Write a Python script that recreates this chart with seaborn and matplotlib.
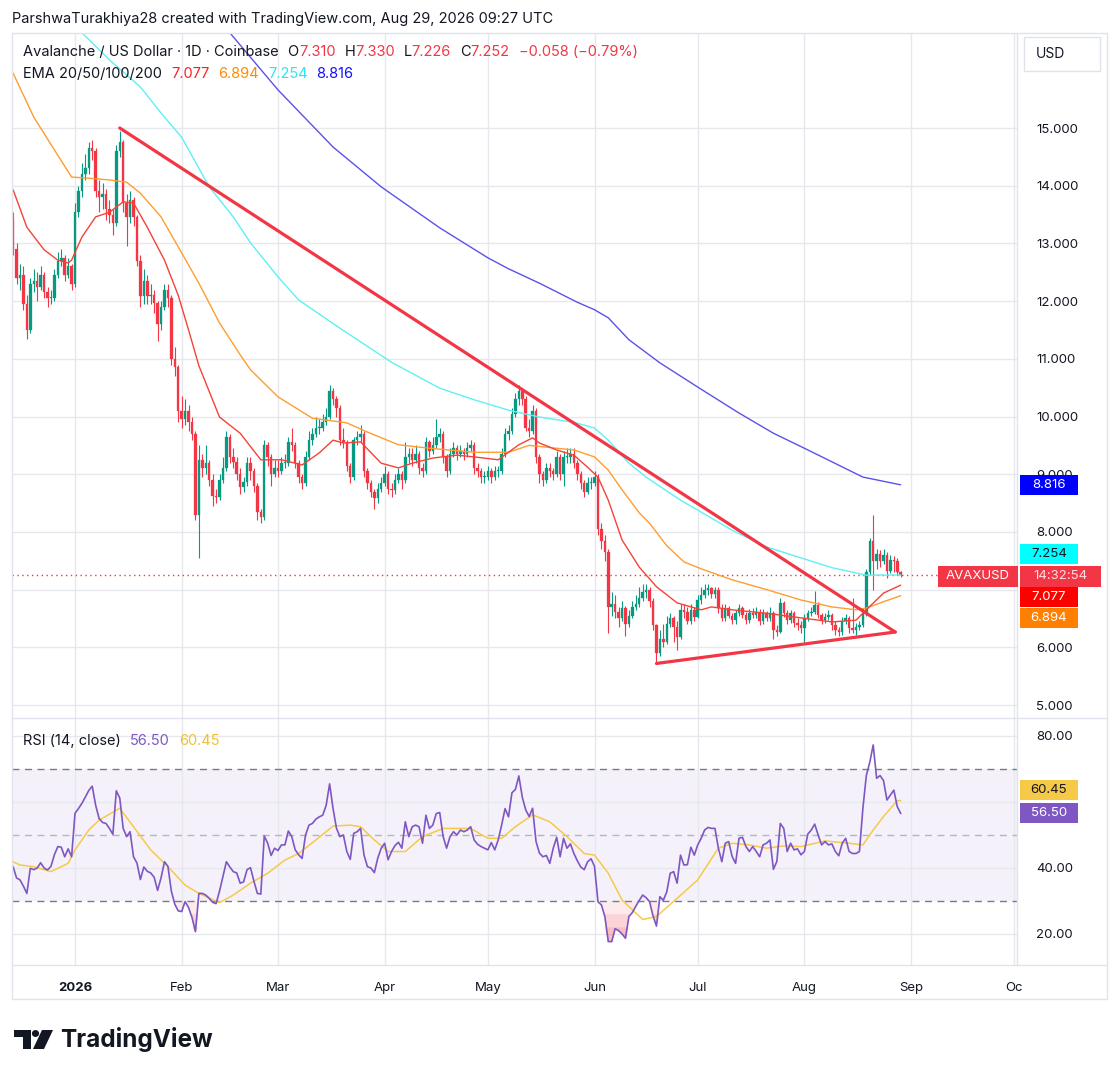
import numpy as np
import pandas as pd
import matplotlib
matplotlib.use("Agg")
import matplotlib.pyplot as plt
import matplotlib.dates as mdates
from matplotlib.patches import Rectangle, Polygon, Circle
from matplotlib.lines import Line2D
from matplotlib.ticker import FuncFormatter
import seaborn as sns

# ---------------- data ----------------
start_date = "2025-12-14"
first_open = 13.4

closes = [
    12.9, 12.4, 12.45, 11.95, 11.5, 12.3, 12.35, 12.25, 12.45, 12.15,
    12.05, 12.05, 12.45, 12.7, 12.75, 12.45, 12.6, 12.3, 13.55, 13.9,
    14.2, 14.3, 14.65, 14.6, 13.9, 13.8, 13.85, 13.6, 13.5, 13.35,
    14.6, 14.75, 13.7, 13.45, 13.75, 13.45, 12.7, 12.08, 12.35, 12.08,
    12.1, 11.96, 11.6, 11.9, 12.2, 12.05, 11.0, 10.85, 10.1, 9.95,
    10.1, 9.9, 9.7, 8.3, 9.25, 9.1, 9.2, 8.9, 8.62, 8.6,
    8.9, 9.1, 9.65, 9.3, 9.22, 9.0, 8.78, 8.87, 9.2, 9.05,
    8.8, 8.35, 8.25, 9.5, 9.3, 9.0, 9.1, 9.05, 9.2, 9.2,
    9.55, 9.5, 9.2, 8.95, 8.85, 9.3, 9.6, 9.7, 9.8, 9.8,
    9.9, 10.0, 10.45, 10.3, 10.15, 9.6, 9.55, 9.15, 8.95, 9.6,
    9.65, 9.7, 9.05, 8.85, 8.7, 8.58, 8.75, 8.85, 9.0, 8.75,
    8.72, 8.9, 9.0, 8.9, 9.3, 9.35, 9.25, 9.35, 9.1, 9.05,
    9.55, 9.4, 9.5, 9.65, 9.7, 9.3, 9.05, 9.35, 9.45, 9.35,
    9.4, 9.35, 9.45, 9.5, 9.1, 9.05, 8.95, 8.95, 9.05, 8.95,
    9.05, 9.05, 9.35, 9.7, 9.75, 10.05, 10.3, 10.44, 10.3, 9.8,
    9.75, 10.1, 9.3, 9.0, 8.9, 9.1, 9.05, 9.0, 9.3, 9.0,
    9.3, 9.3, 9.35, 9.2, 9.0, 8.85, 8.7, 8.85, 8.85, 8.95,
    8.05, 7.85, 7.65, 6.7, 6.75, 6.62, 6.5, 6.68, 6.4, 6.55,
    6.7, 6.75, 6.85, 6.95, 7.0, 6.8, 6.38, 5.9, 6.15, 6.1,
    6.4, 6.5, 6.36, 6.18, 6.65, 6.62, 6.45, 6.65, 6.53, 6.82,
    6.9, 6.99, 7.02, 6.93, 7.0, 6.68, 6.5, 6.68, 6.55, 6.47,
    6.59, 6.68, 6.56, 6.47, 6.59, 6.56, 6.62, 6.45, 6.59, 6.5,
    6.6, 6.3, 6.27, 6.76, 6.59, 6.47, 6.59, 6.42, 6.39, 6.33,
    6.5, 6.59, 6.62, 6.73, 6.56, 6.47, 6.53, 6.56, 6.39, 6.3,
    6.27, 6.45, 6.5, 6.33, 6.3, 6.36, 6.39, 6.6, 7.3, 7.85,
    7.5, 7.62, 7.5, 7.6, 7.32, 7.52, 7.5, 7.31, 7.252,
]

highs = [
    13.55, 13.0, 12.65, 12.6, 12.1, 12.4, 12.55, 12.5, 12.6, 12.5,
    12.25, 12.2, 12.55, 12.85, 12.9, 12.8, 12.75, 12.65, 13.7, 14.0,
    14.4, 14.55, 14.75, 14.8, 14.65, 14.1, 14.05, 13.95, 13.75, 13.6,
    14.7, 14.95, 14.8, 13.85, 13.9, 13.8, 13.5, 12.8, 12.55, 12.45,
    12.3, 12.2, 12.0, 12.0, 12.3, 12.3, 12.1, 11.2, 10.9, 10.35,
    10.3, 10.2, 10.0, 9.75, 9.5, 9.35, 9.5, 9.25, 9.0, 8.75,
    9.0, 9.3, 9.75, 9.7, 9.45, 9.3, 9.1, 8.95, 9.3, 9.3,
    9.1, 8.85, 8.4, 9.6, 9.55, 9.35, 9.25, 9.25, 9.3, 9.35,
    9.65, 9.8, 9.55, 9.25, 9.0, 9.4, 9.75, 9.8, 10.0, 9.95,
    10.05, 10.15, 10.55, 10.5, 10.35, 10.2, 9.8, 9.6, 9.2, 9.65,
    9.75, 9.85, 9.75, 9.1, 8.9, 8.75, 8.85, 8.95, 9.15, 9.05,
    8.85, 9.0, 9.1, 9.05, 9.55, 9.45, 9.45, 9.5, 9.4, 9.2,
    9.65, 9.6, 9.65, 9.95, 9.8, 9.75, 9.35, 9.45, 9.55, 9.5,
    9.5, 9.45, 9.55, 9.6, 9.55, 9.2, 9.1, 9.05, 9.15, 9.1,
    9.15, 9.15, 9.45, 9.8, 9.85, 10.15, 10.4, 10.55, 10.5, 10.35,
    9.95, 10.2, 10.15, 9.35, 9.05, 9.2, 9.2, 9.1, 9.4, 9.35,
    9.4, 9.45, 9.45, 9.45, 9.25, 9.05, 8.9, 8.95, 8.95, 9.05,
    9.0, 8.15, 7.95, 7.7, 6.95, 6.9, 6.7, 6.8, 6.72, 6.65,
    6.8, 6.9, 7.05, 7.1, 7.1, 7.05, 6.85, 6.4, 6.3, 6.4,
    6.55, 6.6, 6.55, 6.45, 6.75, 6.75, 6.7, 6.75, 6.7, 6.9,
    7.05, 7.1, 7.1, 7.05, 7.05, 7.05, 6.75, 6.75, 6.72, 6.6,
    6.65, 6.75, 6.72, 6.62, 6.66, 6.68, 6.7, 6.66, 6.66, 6.63,
    6.7, 6.63, 6.38, 6.85, 6.8, 6.65, 6.65, 6.63, 6.5, 6.45,
    6.58, 6.65, 6.7, 6.98, 6.78, 6.6, 6.6, 6.65, 6.6, 6.45,
    6.36, 6.52, 6.58, 6.55, 6.85, 6.42, 6.45, 6.68, 7.35, 7.9,
    8.3, 7.7, 7.68, 7.7, 7.65, 7.6, 7.58, 7.55, 7.33,
]

lows = [
    12.8, 12.3, 12.2, 11.85, 11.35, 11.45, 12.15, 12.0, 12.2, 12.05,
    11.9, 11.95, 12.0, 12.4, 12.6, 12.35, 12.4, 12.2, 12.25, 13.45,
    13.8, 14.1, 14.2, 14.45, 13.8, 13.55, 13.6, 13.4, 13.35, 13.15,
    13.3, 14.5, 13.55, 12.95, 13.35, 13.3, 12.6, 11.9, 11.95, 11.95,
    11.95, 11.8, 11.3, 11.5, 11.85, 11.9, 10.9, 10.7, 9.9, 9.8,
    9.85, 9.75, 9.6, 8.2, 7.55, 8.95, 9.0, 8.8, 8.45, 8.5,
    8.55, 8.85, 9.05, 9.2, 9.1, 8.9, 8.65, 8.7, 8.8, 8.9,
    8.7, 8.2, 8.15, 8.2, 9.15, 8.8, 8.95, 8.95, 9.0, 9.1,
    9.15, 9.4, 9.1, 8.85, 8.75, 8.8, 9.25, 9.5, 9.65, 9.7,
    9.75, 9.85, 9.95, 10.2, 10.0, 9.5, 9.45, 9.05, 8.85, 8.9,
    9.5, 9.55, 8.95, 8.75, 8.6, 8.4, 8.5, 8.7, 8.8, 8.65,
    8.6, 8.65, 8.85, 8.75, 8.85, 9.2, 9.15, 9.2, 9.0, 8.95,
    9.0, 9.3, 9.35, 9.45, 9.55, 9.2, 8.95, 9.0, 9.3, 9.25,
    9.3, 9.25, 9.3, 9.4, 9.0, 8.95, 8.85, 8.85, 8.9, 8.85,
    8.9, 8.95, 9.0, 9.3, 9.6, 9.7, 10.0, 10.2, 10.2, 9.75,
    9.65, 9.7, 9.2, 8.85, 8.8, 8.85, 8.95, 8.9, 8.95, 8.9,
    8.8, 9.2, 9.2, 9.1, 8.9, 8.75, 8.6, 8.65, 8.75, 8.8,
    7.95, 7.7, 7.5, 6.25, 6.55, 6.5, 6.35, 6.45, 6.2, 6.35,
    6.5, 6.65, 6.7, 6.8, 6.85, 6.7, 6.3, 5.75, 5.85, 6.0,
    6.05, 6.35, 6.1, 5.95, 6.15, 6.5, 6.4, 6.4, 6.45, 6.5,
    6.75, 6.85, 6.9, 6.85, 6.85, 6.6, 6.45, 6.45, 6.5, 6.4,
    6.4, 6.55, 6.5, 6.4, 6.42, 6.5, 6.5, 6.38, 6.4, 6.45,
    6.45, 6.15, 6.2, 6.25, 6.52, 6.4, 6.42, 6.36, 6.3, 6.25,
    6.1, 6.45, 6.55, 6.58, 6.5, 6.4, 6.42, 6.48, 6.3, 6.22,
    6.2, 6.22, 6.4, 6.25, 6.25, 6.22, 6.3, 6.35, 6.55, 7.25,
    7.0, 7.35, 7.4, 7.45, 7.2, 7.28, 7.3, 7.25, 7.226,
]

# EMA lines, read at sampled days (day index from start_date)
ema20_day = [0, 4, 9, 13, 16, 17, 20, 24, 28, 32, 35, 39, 44, 48, 51, 54, 60, 66, 72, 78,
             84, 89, 93, 96, 101, 107, 112, 116, 122, 129, 134, 141, 147, 151, 153, 158,
             163, 167, 170, 173, 177, 182, 187, 193, 200, 203, 209, 219, 229, 238, 245,
             248, 253, 258]
ema20_val = [13.93, 13.28, 12.89, 12.71, 12.66, 12.71, 13.11, 13.46, 13.54, 13.72, 13.70,
             13.28, 12.71, 12.10, 11.50, 10.88, 9.99, 9.71, 9.25, 9.25, 9.16, 9.37, 9.59,
             9.54, 9.56, 9.19, 9.11, 9.19, 9.28, 9.33, 9.30, 9.25, 9.51, 9.63, 9.54, 9.42,
             9.33, 9.12, 8.95, 8.55, 7.86, 7.39, 7.05, 6.77, 6.65, 6.70, 6.65, 6.59, 6.51,
             6.44, 6.47, 6.65, 6.94, 7.077]
ema50_day = [0, 6, 12, 17, 22, 28, 33, 37, 43, 48, 54, 60, 66, 69, 77, 87, 97, 103, 112,
             121, 134, 144, 150, 158, 163, 169, 173, 177, 182, 185, 190, 195, 200, 209,
             219, 229, 238, 245, 248, 253, 258]
ema50_val = [15.95, 15.19, 14.62, 14.15, 14.13, 14.10, 14.06, 13.87, 13.46, 12.94, 12.31,
             11.62, 11.07, 10.81, 10.34, 9.97, 9.89, 9.73, 9.51, 9.45, 9.38, 9.38, 9.50,
             9.45, 9.42, 9.30, 9.07, 8.73, 8.33, 8.15, 7.76, 7.48, 7.36, 7.17, 7.00, 6.82,
             6.70, 6.65, 6.68, 6.79, 6.894]
ema100_day = [20, 28, 37, 43, 49, 57, 64, 69, 77, 83, 95, 110, 124, 134, 144, 153, 163,
              169, 173, 179, 184, 194, 209, 219, 229, 238, 248, 258]
ema100_val = [16.65, 16.18, 15.71, 15.26, 14.84, 13.98, 13.46, 13.01, 12.42, 12.02, 11.53,
              10.94, 10.49, 10.29, 10.11, 9.99, 9.90, 9.80, 9.59, 9.19, 8.95, 8.55, 8.03,
              7.74, 7.55, 7.38, 7.25, 7.254]
ema200_day = [63, 77, 93, 107, 124, 138, 144, 153, 164, 169, 173, 179, 188, 199, 211, 221,
              230, 247, 258]
ema200_val = [16.65, 15.66, 14.67, 13.98, 13.27, 12.75, 12.56, 12.31, 11.98, 11.85, 11.71,
              11.33, 10.93, 10.51, 10.06, 9.71, 9.45, 8.95, 8.816]

# RSI(14) daily, and its moving average read at sampled days
rsi = [
    40.4, 37.0, 36.4, 34.5, 32.3, 39.9, 39.5, 40.0, 41.6, 40.0,
    39.4, 40.5, 44.0, 46.5, 46.3, 43.4, 45.8, 43.4, 56.6, 58.0,
    59.6, 61.5, 63.5, 64.8, 59.0, 55.0, 53.8, 53.5, 52.0, 50.2,
    63.4, 61.2, 52.0, 49.5, 51.0, 43.4, 41.5, 36.5, 40.3, 39.0,
    38.5, 37.2, 33.2, 37.0, 41.9, 40.5, 33.0, 29.0, 27.0, 26.8,
    29.8, 28.0, 25.0, 20.7, 32.3, 32.3, 31.8, 30.8, 29.6, 29.2,
    33.0, 37.5, 41.9, 40.3, 38.9, 38.5, 35.4, 35.8, 39.5, 40.1,
    36.0, 32.3, 32.1, 49.7, 47.5, 43.8, 46.0, 45.3, 47.0, 47.0,
    51.2, 49.5, 45.5, 44.0, 42.9, 50.0, 53.0, 53.5, 54.8, 55.5,
    56.0, 59.0, 65.5, 58.0, 52.0, 49.5, 50.0, 45.0, 42.6, 50.5,
    51.0, 52.0, 43.9, 40.4, 40.0, 38.6, 43.0, 46.0, 47.5, 42.5,
    45.0, 46.8, 47.8, 46.0, 54.0, 49.5, 52.5, 53.0, 52.5, 47.5,
    56.0, 52.0, 53.0, 56.5, 56.8, 49.5, 46.0, 49.5, 51.0, 50.0,
    51.5, 51.0, 51.5, 52.5, 48.5, 47.2, 46.5, 46.0, 45.5, 47.7,
    45.5, 48.5, 53.0, 58.0, 55.5, 62.8, 63.8, 67.9, 61.5, 57.6,
    55.6, 58.1, 48.0, 44.5, 43.4, 43.8, 41.4, 46.0, 49.3, 43.4,
    49.0, 46.0, 47.3, 44.4, 42.2, 40.3, 39.5, 41.9, 42.8, 40.5,
    29.8, 28.8, 25.3, 17.7, 17.7, 21.6, 21.0, 20.0, 18.7, 25.3,
    26.5, 28.4, 30.2, 31.8, 31.0, 29.8, 25.5, 22.4, 31.3, 30.2,
    32.8, 38.4, 38.9, 35.4, 43.9, 40.9, 41.0, 46.3, 43.9, 47.0,
    49.0, 51.5, 52.3, 52.0, 52.0, 46.0, 41.9, 47.5, 48.0, 43.5,
    41.4, 49.0, 49.3, 46.5, 45.0, 46.5, 45.0, 43.4, 47.0, 47.5,
    48.5, 39.6, 42.0, 53.5, 52.0, 45.0, 47.5, 45.5, 45.8, 44.0,
    45.0, 50.3, 51.5, 53.3, 50.0, 47.0, 48.0, 47.0, 47.3, 45.0,
    43.7, 47.5, 49.0, 45.0, 44.4, 44.4, 45.0, 58.0, 68.0, 72.0,
    77.3, 67.2, 68.0, 66.5, 60.6, 62.1, 63.6, 58.6, 56.5,
]
rsi_ma_day = [0, 2, 6, 11, 16, 18, 22, 25, 31, 35, 40, 45, 50, 54, 60, 64, 69, 74, 79, 83,
              88, 93, 98, 101, 105, 109, 114, 119, 125, 130, 133, 138, 142, 146, 151, 156,
              161, 166, 169, 173, 177, 183, 187, 193, 199, 205, 209, 214, 219, 224, 229,
              236, 243, 247, 250, 253, 257, 258]
rsi_ma_val = [41.9, 40.9, 40.4, 38.9, 41.4, 45.5, 51.5, 54.5, 58.1, 52.5, 45.5, 40.4, 34.8,
              32.3, 29.5, 31.8, 35.4, 38.4, 42.4, 44.4, 48.5, 52.7, 53.0, 52.5, 48.5, 45.0,
              45.0, 49.5, 52.0, 52.0, 52.0, 49.0, 49.0, 52.5, 56.1, 54.0, 49.5, 44.4, 43.9,
              38.4, 30.3, 24.4, 25.3, 30.8, 36.4, 46.0, 47.5, 47.0, 46.0, 46.7, 46.5, 48.2,
              47.5, 47.0, 51.5, 55.6, 60.4, 60.45]

# drawn trendlines (day index, price)
trend_upper_day = [31, 256.4]
trend_upper_val = [15.0, 6.265]
trend_lower_day = [187, 256.4]
trend_lower_val = [5.72, 6.265]

month_dates = ["2026-01-01", "2026-02-01", "2026-03-01", "2026-04-01", "2026-05-01",
               "2026-06-01", "2026-07-01", "2026-08-01", "2026-09-01", "2026-10-01"]
month_labels = ["2026", "Feb", "Mar", "Apr", "May", "Jun", "Jul", "Aug", "Sep", "Oc"]
price_ticks = [5, 6, 7, 8, 9, 10, 11, 12, 13, 14, 15]
rsi_ticks = [20, 40, 60, 80]
price_hidden = [7]     # scale labels covered by the value badges in the reference
rsi_hidden = [60]

# ---------------- styling ----------------
sns.set_style("white")
plt.rcParams["font.family"] = ["Inter", "DejaVu Sans"]
plt.rcParams["axes.unicode_minus"] = True

UP, DOWN = "#089981", "#f23645"
GRID = "#e6e8ee"
TXT = "#131722"
C20, C50, C100, C200 = "#f44336", "#ff9d2e", "#5ff0f5", "#5b52e8"
RSI_C, RSI_MA_C = "#7e57c2", "#f7c948"

W, H = 1120, 1072
fig = plt.figure(figsize=(W / 100, H / 100), dpi=100)
fig.patch.set_facecolor("white")


def fx(px):
    return px / W


def fy(py):
    return 1 - py / H


PL, PR = 12, 1017
ax = fig.add_axes([fx(PL), fy(718), (PR - PL) / W, (718 - 33) / H])
ax2 = fig.add_axes([fx(PL), fy(965), (PR - PL) / W, (965 - 718) / H], sharex=ax)

base = mdates.date2num(pd.Timestamp(start_date))
n = len(closes)
xd = base + np.arange(n)
c = np.array(closes)
o = np.array([first_open] + closes[:-1])
h = np.array(highs)
l = np.array(lows)

# ---- price pane ----
ax.set_facecolor("white")
up = c >= o
cols = np.where(up, UP, DOWN)
ax.vlines(xd, l, h, colors=cols, lw=0.8, zorder=2)
ax.bar(xd, np.maximum(np.abs(c - o), 0.015), bottom=np.minimum(o, c), width=0.72,
       color=cols, edgecolor=cols, linewidth=0.2, zorder=2.1)

for days, vals, col in [(ema200_day, ema200_val, C200), (ema100_day, ema100_val, C100),
                        (ema50_day, ema50_val, C50), (ema20_day, ema20_val, C20)]:
    sns.lineplot(x=base + np.array(days, float), y=vals, ax=ax, color=col, linewidth=1.0,
                 estimator=None, sort=False, legend=False, zorder=3)

for days, vals in [(trend_upper_day, trend_upper_val), (trend_lower_day, trend_lower_val)]:
    sns.lineplot(x=base + np.array(days, float), y=vals, ax=ax, color="#f23645",
                 linewidth=2.3, estimator=None, sort=False, legend=False, zorder=4)

ax.axhline(closes[-1], color="#f23645", lw=1.0, ls=(0, (1, 2.5)), zorder=2.5)

x0 = base - 0.32
x1 = base + 291.8
ax.set_xlim(x0, x1)
ax.set_ylim(15 - (718 - 128) / 57.7, 15 + (128 - 33) / 57.7)
ax.set_yticks(price_ticks)
ax.yaxis.set_major_formatter(FuncFormatter(
    lambda v, p: "" if round(v) in price_hidden else f"{v:.3f}"))
ax.yaxis.tick_right()
ax.tick_params(axis="y", length=0, pad=14, labelsize=9.5, labelcolor=TXT)
ax.set_xticks([mdates.date2num(pd.Timestamp(d)) for d in month_dates])
ax.tick_params(axis="x", length=0, labelbottom=False)
ax.grid(True, color=GRID, lw=1)
ax.set_axisbelow(True)
for s in ax.spines.values():
    s.set_visible(False)
ax.set_xlabel("")
ax.set_ylabel("")

# ---- RSI pane ----
r = np.array(rsi)
ax2.set_facecolor("white")
ax2.axhspan(30, 70, color="#7e57c2", alpha=0.08, lw=0, zorder=0.5)
for t, a in [(30, 0.10), (26, 0.12), (22, 0.14), (18, 0.16)]:
    ax2.fill_between(xd, np.minimum(r, t), t, where=r < t, interpolate=True,
                     color="#f23645", alpha=a, lw=0, zorder=1)
ax2.axhline(70, color="#787b86", lw=1, dashes=(5, 4), zorder=1.2)
ax2.axhline(30, color="#787b86", lw=1, dashes=(5, 4), zorder=1.2)
ax2.axhline(50, color="#787b86", lw=1, dashes=(5, 4), alpha=0.5, zorder=1.2)
sns.lineplot(x=base + np.array(rsi_ma_day, float), y=rsi_ma_val, ax=ax2, color=RSI_MA_C,
             linewidth=1.1, estimator=None, sort=False, legend=False, zorder=2)
sns.lineplot(x=xd, y=r, ax=ax2, color=RSI_C, linewidth=1.2, estimator=None, sort=False,
             legend=False, zorder=3)
ax2.set_ylim(80 - (965 - 736) / 3.3, 80 + (736 - 718) / 3.3)
ax2.set_yticks(rsi_ticks)
ax2.yaxis.set_major_formatter(FuncFormatter(
    lambda v, p: "" if round(v) in rsi_hidden else f"{v:.2f}"))
ax2.yaxis.tick_right()
ax2.tick_params(axis="y", length=0, pad=14, labelsize=9.5, labelcolor=TXT)
ax2.set_xticks([mdates.date2num(pd.Timestamp(d)) for d in month_dates])
ax2.set_xticklabels(month_labels)
ax2.tick_params(axis="x", length=3, color="#d1d4dc", pad=9, labelsize=9.5, labelcolor=TXT)
ax2.get_xticklabels()[0].set_fontweight("bold")
ax2.grid(True, color=GRID, lw=1)
ax2.set_axisbelow(True)
for s in ax2.spines.values():
    s.set_visible(False)
ax2.set_xlim(x0, x1)
ax2.set_xlabel("")
ax2.set_ylabel("")

# ---- frame ----
FR = "#e0e3eb"
fig.add_artist(Rectangle((fx(12), fy(999)), (1107 - 12) / W, (999 - 33) / H, fill=False,
                         ec=FR, lw=1, transform=fig.transFigure, zorder=0.5))
for (xa, ya, xb, yb) in [(1017, 33, 1017, 965), (12, 718, 1107, 718), (12, 965, 1107, 965)]:
    fig.add_artist(Line2D([fx(xa), fx(xb)], [fy(ya), fy(yb)], color=FR, lw=1,
                          transform=fig.transFigure, zorder=0.6))

# ---- texts ----
renderer = fig.canvas.get_renderer()


def seq(x_px, y_px, groups, size=10.5, gap=9):
    """groups: list of groups; each group is a list of (text, colour) drawn back to back,
    with `gap` pixels between groups."""
    x = x_px
    for gi, pieces in enumerate(groups):
        if gi:
            x += gap
        for s, col in pieces:
            t = fig.text(fx(x), fy(y_px), s, color=col, fontsize=size, ha="left",
                         va="center", zorder=7)
            x = t.get_window_extent(renderer=renderer).x1


fig.text(fx(12), fy(19), "ParshwaTurakhiya28 created with TradingView.com, Aug 29, 2026 09:27 UTC",
         fontsize=10.5, color=TXT, ha="left", va="center")

last_o, last_h, last_l, last_c = o[-1], h[-1], l[-1], c[-1]
chg = last_c - last_o
pct = chg / last_o * 100
seq(23, 52, [[("Avalanche / US Dollar · 1D · Coinbase", TXT)],
             [("O", TXT), (f"{last_o:.3f}", DOWN)],
             [("H", TXT), (f"{last_h:.3f}", DOWN)],
             [("L", TXT), (f"{last_l:.3f}", DOWN)],
             [("C", TXT), (f"{last_c:.3f}", DOWN)],
             [(f"\u2212{abs(chg):.3f} (\u2212{abs(pct):.2f}%)", DOWN)]])
seq(23, 74, [[("EMA 20/50/100/200", TXT)],
             [(f"{ema20_val[-1]:.3f}", "#ff1f1f")],
             [(f"{ema50_val[-1]:.3f}", "#ff8a00")],
             [(f"{ema100_val[-1]:.3f}", "#2ee6ef")],
             [(f"{ema200_val[-1]:.3f}", "#1010ff")]])
seq(23, 741, [[("RSI (14, close)", TXT)],
              [(f"{rsi[-1]:.2f}", RSI_C)],
              [(f"{rsi_ma_val[-1]:.2f}", "#f2c12e")]])

# USD box
fig.add_artist(Rectangle((fx(1024), fy(71)), 76 / W, 34 / H, fill=False, ec=FR, lw=1,
                         transform=fig.transFigure, zorder=5))
fig.text(fx(1036), fy(54), "USD", fontsize=10, color=TXT, ha="left", va="center")


def badge(xa, xb, yc, hh, fc, text, tc, size=9.5):
    fig.add_artist(Rectangle((fx(xa), fy(yc + hh / 2)), (xb - xa) / W, hh / H, fc=fc, ec="none",
                             transform=fig.transFigure, zorder=6))
    fig.text(fx((xa + xb) / 2), fy(yc), text, color=tc, fontsize=size, ha="center",
             va="center", zorder=7)


badge(1020, 1078, 485, 20, "#0000ff", f"{ema200_val[-1]:.3f}", "white")
badge(1020, 1078, 554, 20, "#00ffff", f"{ema100_val[-1]:.3f}", TXT)
badge(938, 1018, 576, 21, "#f23645", "AVAXUSD", "white")
badge(1020, 1101, 576, 21, "#f23645", "14:32:54", "#ffdfe3")
badge(1020, 1078, 597, 20, "#ff0000", f"{ema20_val[-1]:.3f}", "white")
badge(1020, 1078, 618, 20, "#ff8000", f"{ema50_val[-1]:.3f}", "white")
badge(1020, 1078, 790, 20, "#f7c948", f"{rsi_ma_val[-1]:.2f}", TXT)
badge(1020, 1078, 813, 20, "#7e57c2", f"{rsi[-1]:.2f}", "white")

# TradingView logo
logo = "#131722"
fig.add_artist(Polygon([(fx(14), fy(1030)), (fx(31), fy(1030)), (fx(31), fy(1049)),
                        (fx(23), fy(1049)), (fx(23), fy(1037)), (fx(14), fy(1037))],
                       closed=True, fc=logo, ec="none", transform=fig.transFigure))
fig.add_artist(Circle((fx(35.5), fy(1033.5)), 3.6 / W, fc=logo, ec="none",
                      transform=fig.transFigure))
fig.add_artist(Polygon([(fx(42), fy(1030)), (fx(53), fy(1030)), (fx(44), fy(1049)),
                        (fx(33), fy(1049))], closed=True, fc=logo, ec="none",
                       transform=fig.transFigure))
fig.text(fx(60), fy(1040), "TradingView", fontsize=17.5, fontweight="bold", color=logo,
         ha="left", va="center")

fig.savefig("out.png", dpi=100, facecolor="white")
